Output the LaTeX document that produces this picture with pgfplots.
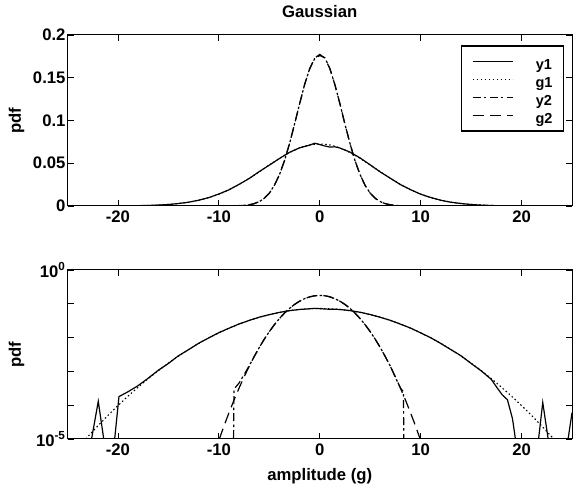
\documentclass[border=0pt]{standalone}
\usepackage{pgfplots}
\pgfplotsset{compat=1.18}
\usepackage{pgfplotstable}
\usepackage{fontspec}
\setmainfont{Liberation Sans}
\newcommand{\figfont}{\fontsize{16.7bp}{20bp}\selectfont\bfseries}
\newcommand{\legfont}{\fontsize{14.5bp}{17bp}\selectfont\bfseries}

% measured histogram y1
\pgfplotstableread{
x y
-25 6e-6
-22.75 6e-6
-21.95 1.3e-4
-21.3 6e-6
-20.4 6e-6
-19.9 1.8e-4
-19 2.5e-4
-18 3.8e-4
-17 6.3e-4
-16 1.08e-3
-15 1.72e-3
-14 2.9e-3
-13 4.4e-3
-12 6.8e-3
-11 0.0098
-10 0.0140
-9 0.0189
-8 0.0253
-7 0.0321
-6 0.0402
-5 0.0478
-4 0.0555
-3 0.0627
-2 0.0680
-1 0.0712
-0.5 0.0734
0 0.0718
0.5 0.0702
1 0.0689
1.5 0.0692
2 0.0678
3 0.0630
4 0.0562
5 0.0481
6 0.0398
7 0.0324
8 0.0250
9 0.0191
10 0.0138
11 0.0099
12 0.0067
13 0.0044
14 0.0029
15 0.00172
16 0.00104
17 5.8e-4
17.6 3.2e-4
18.1 2.0e-4
18.6 1.45e-4
19.1 4e-5
19.5 6e-6
21.6 6e-6
22.1 1.2e-4
22.75 6e-6
24.5 6e-6
25 6e-5
}\yone

% fitted gaussian g1
\pgfplotstableread{
x y
-25 0.000002372
-24 0.000005318
-23 0.00001157
-22 0.00002433
-21 0.00004952
-20 0.00009751
-19 0.0001858
-18 0.0003425
-17 0.0006107
-16 0.001054
-15 0.001760
-14 0.002842
-13 0.004441
-12 0.006713
-11 0.009816
-10 0.01389
-9 0.01901
-8 0.02518
-7 0.03227
-6 0.04000
-5 0.04798
-4 0.05567
-3.5 0.05924
-3 0.06251
-2.5 0.06541
-2 0.06789
-1.5 0.06988
-1 0.07134
-0.5 0.07223
0 0.07253
0.5 0.07223
1 0.07134
1.5 0.06988
2 0.06789
2.5 0.06541
3 0.06251
3.5 0.05924
4 0.05567
5 0.04798
6 0.04000
7 0.03227
8 0.02518
9 0.01901
10 0.01389
11 0.009816
12 0.006713
13 0.004441
14 0.002842
15 0.001760
16 0.001054
17 0.0006107
18 0.0003425
19 0.0001858
20 0.00009751
21 0.00004952
22 0.00002433
23 0.00001157
24 0.000005318
25 0.000002372
}\gone

% measured histogram y2
\pgfplotstableread{
x y
-8.65 1e-9
-8.5 0.00030
-8 0.00045
-7.5 0.00080
-7 0.00145
-6.5 0.00275
-6 0.00505
-5.5 0.00900
-5 0.01495
-4.5 0.02410
-4 0.03640
-3.5 0.05300
-3 0.07270
-2.5 0.09580
-2 0.11920
-1.5 0.14220
-1 0.16030
-0.5 0.17250
0 0.17600
0.5 0.17350
1 0.16100
1.5 0.14170
2 0.11960
2.5 0.09540
3 0.07300
3.5 0.05270
4 0.03660
4.5 0.02390
5 0.01505
5.5 0.00890
6 0.00510
6.5 0.00270
7 0.00142
7.5 0.00066
8 0.00032
8.3 0.00025
8.4 1e-9
}\ytwo

% fitted gaussian g2
\pgfplotstableread{
x y
-10.5 0.000003309
-10 0.000009107
-9.5 0.000023856
-9 0.000059477
-8.5 0.00014078
-8 0.00031882
-7.5 0.00068542
-7 0.0014026
-6.5 0.002732
-6 0.005065
-5.5 0.008937
-5 0.01501
-4.5 0.023995
-4 0.03651
-3.5 0.05287
-3 0.07289
-2.5 0.09564
-2 0.11944
-1.5 0.14197
-1 0.16063
-0.5 0.17298
0 0.1773
0.5 0.17298
1 0.16063
1.5 0.14197
2 0.11944
2.5 0.09564
3 0.07289
3.5 0.05287
4 0.03651
4.5 0.023995
5 0.01501
5.5 0.008937
6 0.005065
6.5 0.002732
7 0.0014026
7.5 0.00068542
8 0.00031882
8.5 0.00014078
9 0.000059477
9.5 0.000023856
10 0.000009107
10.5 0.000003309
}\gtwo

\pgfplotsset{
  common/.style={
    scale only axis, width=504.5bp,
    xmin=-25, xmax=25,
    xtick={-20,-10,0,10,20},
    xticklabels={-20,-10,0,10,20},
    tick align=inside, tick pos=both,
    major tick length=6bp,
    axis line style={line width=1bp},
    every tick/.style={line width=0.9bp, black},
    tick label style={font=\figfont},
    label style={font=\figfont},
    title style={font=\figfont},
    xticklabel style={yshift=-1.3bp},
    yticklabel style={xshift=1.5bp},
    ylabel={pdf},
    ylabel style={at={(axis description cs:0,0.5)}, anchor=center, yshift=51bp},
    clip=true,
  },
  sy1/.style={black, line width=1.2bp, solid},
  sg1/.style={black, line width=1.1bp, dash pattern=on 1.5bp off 2.5bp},
  sy2/.style={black, line width=1.2bp, dash pattern=on 8bp off 3bp on 2.5bp off 3.5bp},
  sg2/.style={black, line width=1.2bp, dash pattern=on 11bp off 6bp},
}

\begin{document}
\begin{tikzpicture}[x=1bp,y=1bp]
\useasboundingbox (0,0) rectangle (578,489);

\begin{axis}[common,
  at={(67.5bp,283bp)}, anchor=south west, height=171bp,
  ymin=0, ymax=0.2,
  ytick={0,0.05,0.1,0.15,0.2},
  yticklabels={0,0.05,0.1,0.15,0.2},
  title={Gaussian},
  title style={at={(axis description cs:0.5,1)}, anchor=base, yshift=12bp},
  legend style={at={(axis description cs:1,1)}, anchor=north east,
    xshift=-8bp, yshift=-10.5bp, draw=black, line width=1.1bp,
    inner xsep=11bp, inner ysep=8bp, font=\legfont,
    row sep=3bp,
    nodes={inner sep=0pt, text height=15bp, text depth=0bp},
    /tikz/every odd column/.append style={column sep=22bp}},
  legend image code/.code={\draw[#1] (0bp,0bp) -- (40bp,0bp);},
]
\addplot[sy1] table[x=x,y=y]{\yone};
\addplot[sg1] table[x=x,y=y]{\gone};
\addplot[sy2] table[x=x,y=y]{\ytwo};
\addplot[sg2] table[x=x,y=y]{\gtwo};
\legend{y1,g1,y2,g2}
\end{axis}

\begin{axis}[common,
  at={(67.5bp,50bp)}, anchor=south west, height=169bp,
  ymode=log, ymin=1e-5, ymax=1,
  ytick={1e-5,1e-4,1e-3,1e-2,1e-1,1},
  yticklabels={10\textsuperscript{-5},{},{},{},{},10\textsuperscript{0}},
  yminorticks=false,
  xlabel={amplitude (g)},
  xlabel style={at={(axis description cs:0.5,0)}, anchor=base, yshift=-41.7bp},
]
\addplot[sy1] table[x=x,y=y]{\yone};
\addplot[sg1] table[x=x,y=y]{\gone};
\addplot[sy2] table[x=x,y=y]{\ytwo};
\addplot[sg2] table[x=x,y=y]{\gtwo};
\end{axis}
\end{tikzpicture}
\end{document}
